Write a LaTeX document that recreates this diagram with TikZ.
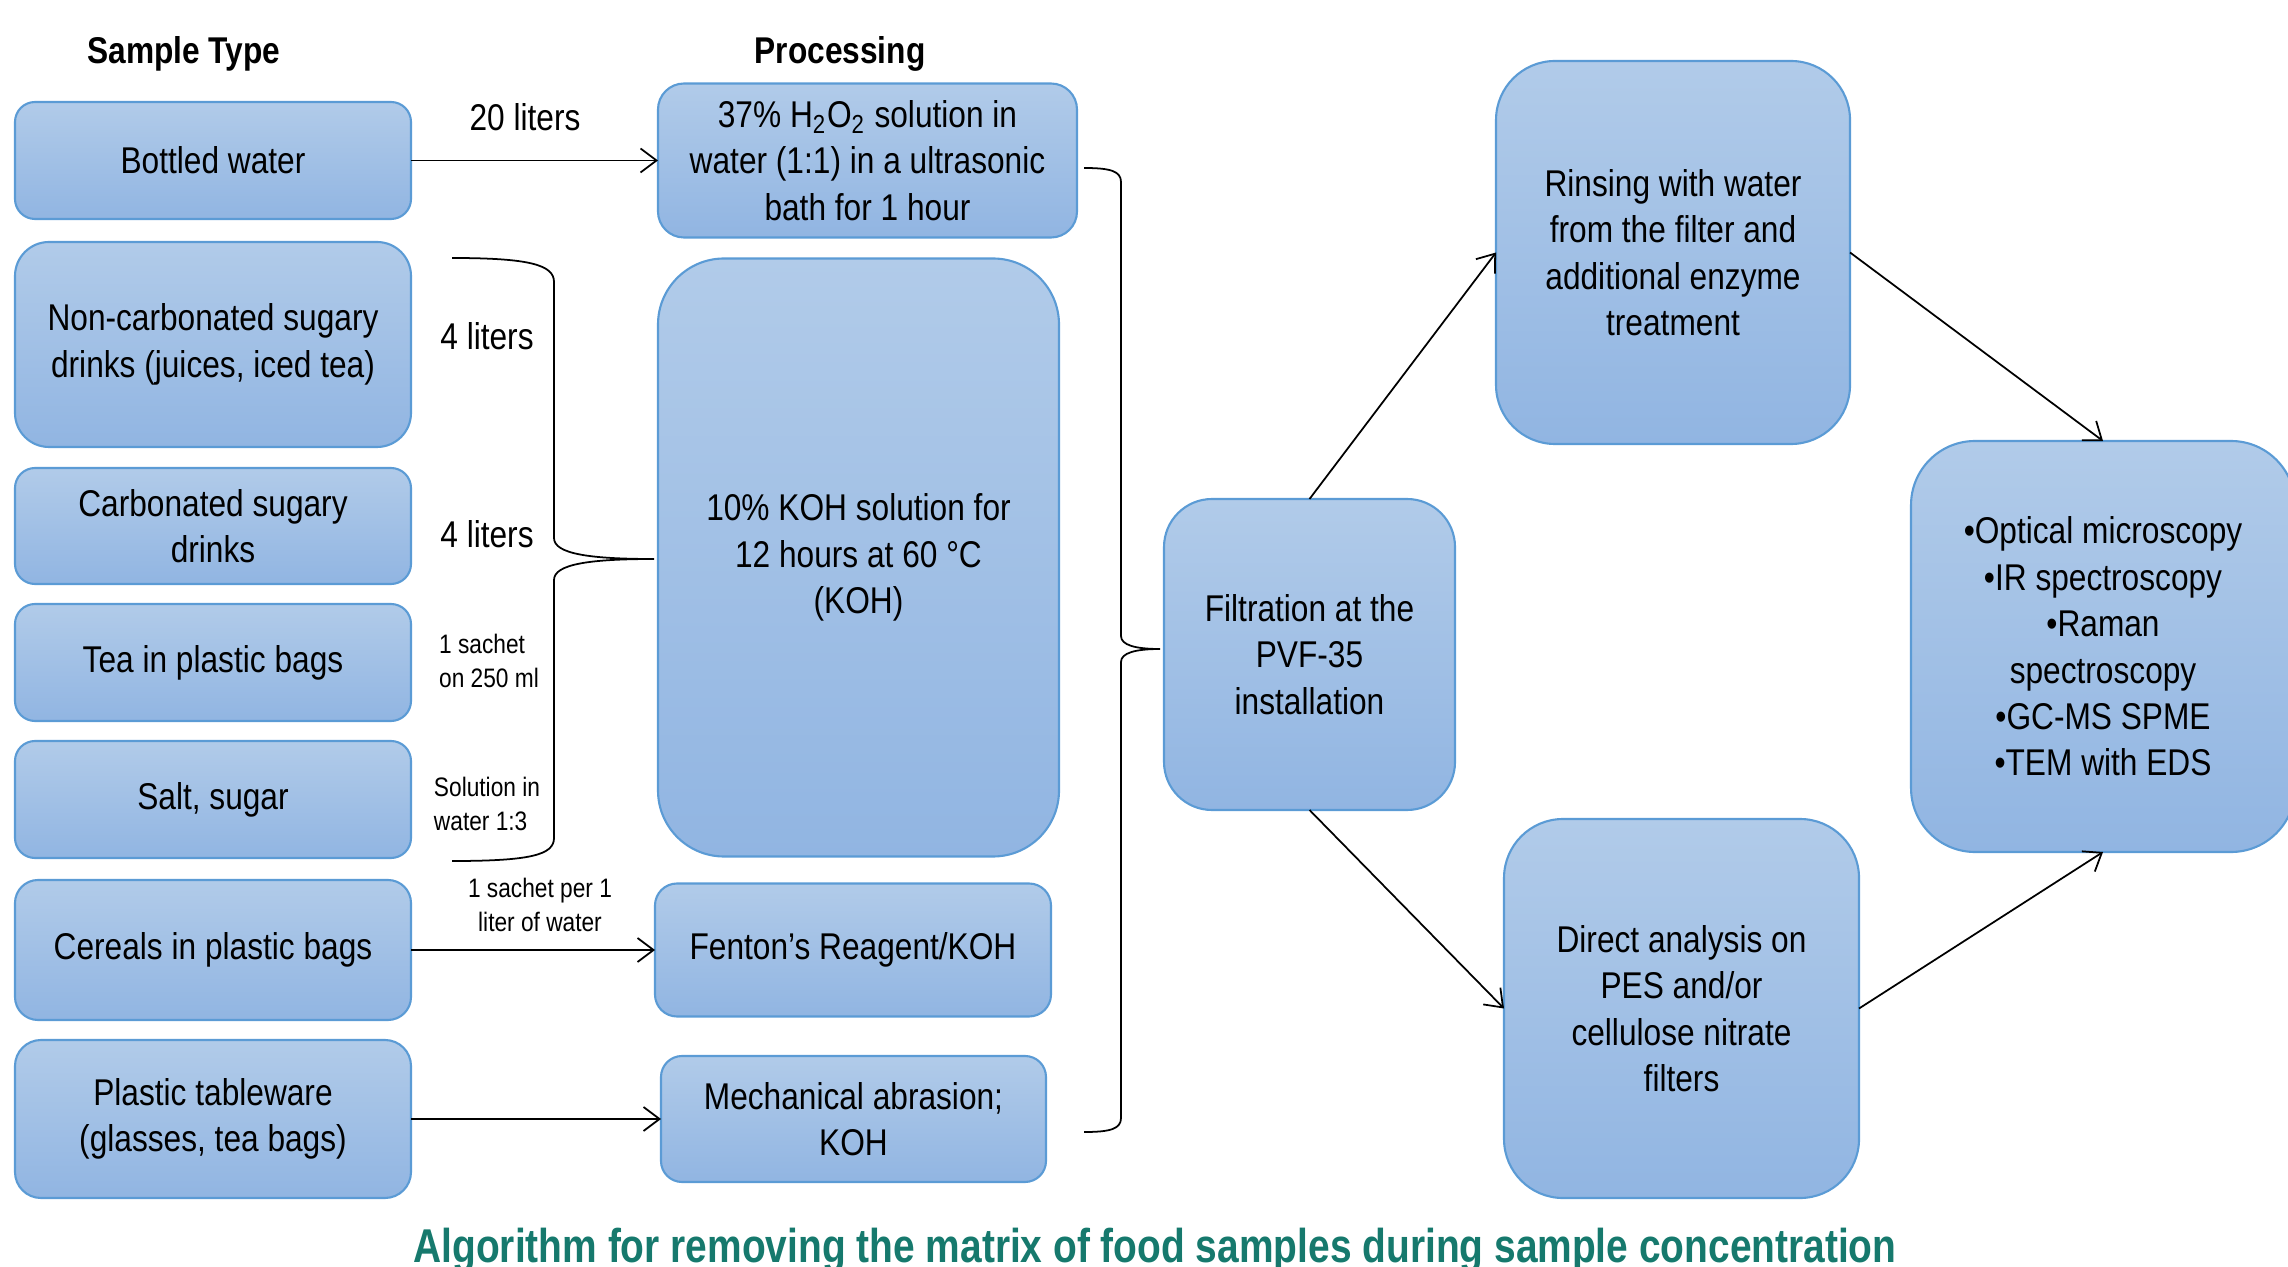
\documentclass[tikz,border=0pt]{standalone}
\usepackage{fontspec}
\setmainfont{Liberation Sans}[FakeStretch=0.85]
\newfontfamily\titlefont{Liberation Sans}[FakeStretch=0.82]
\usetikzlibrary{positioning,arrows.meta}
\definecolor{BoxTop}{HTML}{B1CBE9}
\definecolor{BoxBottom}{HTML}{91B5E2}
\definecolor{BoxLine}{HTML}{5B9BD5}
\definecolor{TitleTeal}{HTML}{16796D}

\begin{document}
\begin{tikzpicture}[
    x=0.1mm, y=-0.1mm,
    blk/.style={draw=BoxLine, line width=0.6pt, top color=BoxTop,
                bottom color=BoxBottom, rounded corners=#1, align=center,
                inner sep=2pt, outer sep=0pt, font=\fontsize{10.6}{13.2}\selectfont},
    blk/.default=2mm,
    src/.style={blk=#1, minimum width=39.6mm},
    src/.default=2mm,
    head/.style={font=\fontsize{10.6}{13.2}\selectfont\bfseries},
    qty/.style={font=\fontsize{10.6}{13.2}\selectfont},
    note/.style={font=\fontsize{7.6}{9.9}\selectfont, align=left},
    ar/.style={-{Straight Barb[length=1.6mm,width=2.4mm]}, line width=0.5pt},
    brc/.style={line width=0.5pt},
    node distance=2.1mm,
  ]
    \useasboundingbox (0,0) rectangle (2288,1267);

    % -- headings --
    \node[head] (hst) at (184,54) {Sample Type};
    \node[head] (hpr) at (840,54) {Processing};

    % -- sample types --
    \node[src, minimum height=11.7mm, anchor=north west] (bw) at (15,102) {Bottled water};
    \node[src=3.4mm, minimum height=20.5mm, below=2.3mm of bw] (nc) {Non-carbonated sugary\\drinks (juices, iced tea)};
    \node[src, minimum height=11.6mm, below=of nc]      (cs)   {Carbonated sugary\\drinks};
    \node[src, minimum height=11.7mm, below=2.0mm of cs]  (tea)  {Tea in plastic bags};
    \node[src, minimum height=11.7mm, below=2.0mm of tea] (salt) {Salt, sugar};
    \node[src=2.3mm, minimum height=14.0mm, below=2.2mm of salt] (cer) {Cereals in plastic bags};
    \node[src=2.6mm, minimum height=15.8mm, below=2.0mm of cer]  (pt)  {Plastic tableware\\(glasses, tea bags)};

    % -- processing --
    \node[blk=2.6mm, minimum width=41.9mm, minimum height=15.4mm, right=24.7mm of bw] (hp)
      {37\% H\textsubscript{2}O\textsubscript{2} solution in\\water (1:1) in a ultrasonic\\bath for 1 hour};
    \node[blk=6.6mm, minimum width=40.1mm, minimum height=59.8mm,
          below=2.1mm of hp.south west, anchor=north west] (koh)
      {10\% KOH solution for\\12 hours at 60 °C\\(KOH)};
    \node[blk=2.2mm, minimum width=39.6mm, minimum height=13.3mm, right=24.4mm of cer] (fen) {Fenton's Reagent/KOH};
    \node[blk=2.1mm, minimum width=38.5mm, minimum height=12.6mm, right=25mm of pt]   (mech) {Mechanical abrasion;\\KOH};

    % -- filtration and analysis --
    \node[blk=4.8mm, minimum width=29.1mm, minimum height=31.1mm] (filt) at (1309.5,654.5)
      {Filtration at the\\PVF-35\\installation};
    \node[blk=5.9mm, minimum width=35.4mm, minimum height=38.3mm] (rin) at (1673,252.5)
      {Rinsing with water\\from the filter and\\additional enzyme\\treatment};
    \node[blk=5.9mm, minimum width=35.5mm, minimum height=37.9mm] (dir) at (1681.5,1008.5)
      {Direct analysis on\\PES and/or\\cellulose nitrate\\filters};
    \node[blk=6.4mm, minimum width=38.4mm, minimum height=41.1mm] (an) at (2103,646.5)
      {•Optical microscopy\\•IR spectroscopy\\•Raman\\spectroscopy\\•GC-MS SPME\\•TEM with EDS};

    % -- quantities --
    \node[qty] (q20) at (525,117) {20 liters};
    \node[qty] (q4a) at (487,336) {4 liters};
    \node[qty] (q4b) at (487,534) {4 liters};
    \node[note] (qsa) at (489,661) {1 sachet\\on 250 ml};
    \node[note] (qso) at (487,804) {Solution in\\water 1:3};
    \node[note, align=center] (qpe) at (540,905) {1 sachet per 1\\liter of water};

    % -- arrows --
    \draw[ar] (bw.east) -- (bw.east -| hp.west);
    \draw[ar] (cer) -- (fen);
    \draw[ar] (pt) -- (mech);
    \draw[ar] (filt.north) -- (rin.west);
    \draw[ar] (filt.south) -- (dir.west);
    \draw[ar] (rin.east) -- (an.north);
    \draw[ar] (dir.east) -- (an.south);

    % -- braces --
    \coordinate (lb1) at (452,258);
    \coordinate (lb2) at (452,861);
    \coordinate (lbtip) at (654,559);
    \draw[brc] (lb1) .. controls (530,258) and (554,265) .. (554,282)
      -- (554,538) .. controls (554,554) and (590,559) .. (lbtip)
      .. controls (590,559) and (554,564) .. (554,580)
      -- (554,838) .. controls (554,855) and (530,861) .. (lb2);
    \coordinate (rb1) at (1084,168);
    \coordinate (rb2) at (1084,1132);
    \coordinate (rbtip) at (1160,649);
    \draw[brc] (rb1) .. controls (1110,168) and (1121,171) .. (1121,182)
      -- (1121,636) .. controls (1121,645) and (1135,649) .. (rbtip)
      .. controls (1135,649) and (1121,653) .. (1121,662)
      -- (1121,1118) .. controls (1121,1129) and (1110,1132) .. (rb2);

    % -- caption --
    \node[font=\titlefont\bfseries\fontsize{13.5}{16}\selectfont, text=TitleTeal, anchor=base] (ttl)
      at (1155,1262) {Algorithm for removing the matrix of food samples during sample concentration};
  \end{tikzpicture}
\end{document}
